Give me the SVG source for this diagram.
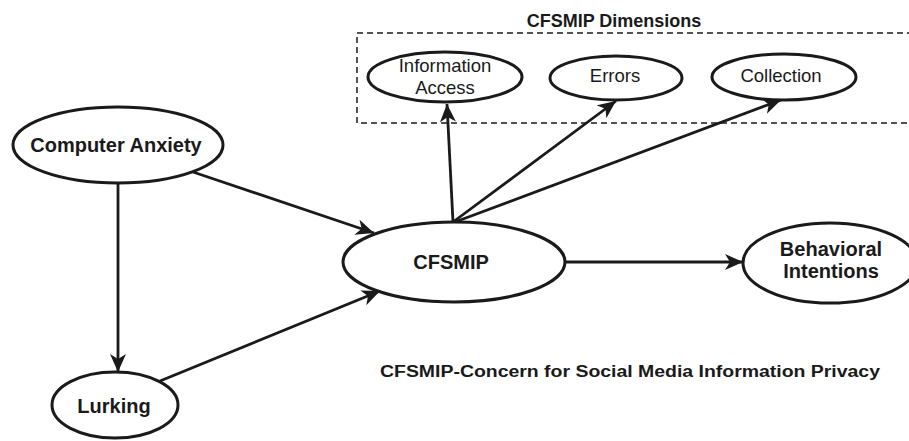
<svg xmlns="http://www.w3.org/2000/svg" width="909" height="441" viewBox="0 0 909 441">
<style>
.node{fill:#fff;stroke:#1a1a1a;stroke-width:3}
.b{font-family:"Liberation Sans",Arial,sans-serif;font-weight:bold;font-size:20px;fill:#1a1a1a;text-anchor:middle}
.r{font-family:"Liberation Sans",Arial,sans-serif;font-size:18.5px;fill:#1a1a1a;text-anchor:middle}
.edge{stroke:#1a1a1a;stroke-width:2.8;fill:none;marker-end:url(#ah)}
</style>
<defs>
<marker id="ah" markerUnits="userSpaceOnUse" markerWidth="20" markerHeight="18" refX="18" refY="8" orient="auto">
<path d="M0,0 L18,8 L0,16 L5,8 z" fill="#1a1a1a"/>
</marker>
</defs>
<rect x="0" y="0" width="909" height="441" fill="#fff"/>
<g id="dimensions-box">
<rect x="357" y="33" width="570" height="90" fill="none" stroke="#1a1a1a" stroke-width="1.5" stroke-dasharray="6 4"/>
<text class="b" x="614" y="27" style="font-size:18px">CFSMIP Dimensions</text>
</g>
<g id="connectors">
<line class="edge" x1="118" y1="183" x2="118" y2="372"/>
<line class="edge" x1="193" y1="172" x2="374" y2="233"/>
<line class="edge" x1="160" y1="381" x2="380" y2="291"/>
<line class="edge" x1="565" y1="262" x2="743" y2="262"/>
<line class="edge" x1="453" y1="222" x2="447" y2="104"/>
<line class="edge" x1="453" y1="222" x2="616" y2="101"/>
<line class="edge" x1="455" y1="222" x2="781" y2="100"/>
</g>
<g id="node-info-access">
<ellipse class="node" cx="445" cy="77" rx="77" ry="25"/>
<text class="r" x="445" y="72">Information</text>
<text class="r" x="445" y="94">Access</text>
</g>
<g id="node-errors">
<ellipse class="node" cx="616" cy="78" rx="66" ry="22"/>
<text class="r" x="615" y="82">Errors</text>
</g>
<g id="node-collection">
<ellipse class="node" cx="784" cy="77" rx="72" ry="23"/>
<text class="r" x="781" y="82">Collection</text>
</g>
<g id="node-computer-anxiety">
<ellipse class="node" cx="118" cy="145" rx="105" ry="38"/>
<text class="b" x="116" y="152">Computer Anxiety</text>
</g>
<g id="node-cfsmip">
<ellipse class="node" cx="454" cy="262" rx="111" ry="40"/>
<text class="b" x="451" y="269">CFSMIP</text>
</g>
<g id="node-behavioral-intentions">
<ellipse class="node" cx="830" cy="263" rx="87" ry="40"/>
<text class="b" x="831" y="256">Behavioral</text>
<text class="b" x="831" y="278">Intentions</text>
</g>
<g id="node-lurking">
<ellipse class="node" cx="115" cy="405" rx="63" ry="33"/>
<text class="b" x="114" y="413">Lurking</text>
</g>
<text x="380" y="377" textLength="500" lengthAdjust="spacingAndGlyphs" style="font-family:'Liberation Sans',Arial,sans-serif;font-weight:bold;font-size:16px;fill:#1a1a1a">CFSMIP-Concern for Social Media Information Privacy</text>
</svg>
